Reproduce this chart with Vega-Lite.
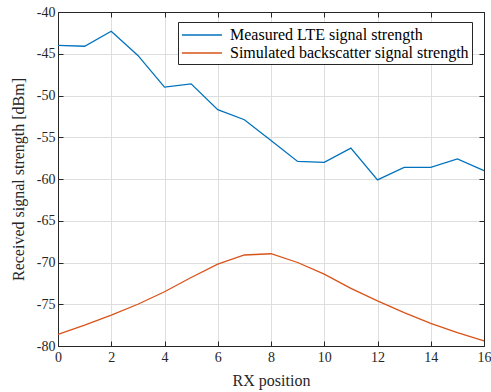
{
  "$schema": "https://vega.github.io/schema/vega-lite/v6.json",
  "width": 426,
  "height": 334,
  "autosize": {"type": "none"},
  "padding": {"left": 58, "top": 12, "right": 7, "bottom": 46},
  "background": "white",
  "config": {
    "view": {"stroke": "#262626", "strokeWidth": 1},
    "font": "'Liberation Serif', serif",
    "axis": {
      "labelFont": "'Liberation Serif', serif",
      "titleFont": "'Liberation Serif', serif",
      "labelFontSize": 14,
      "titleFontSize": 16,
      "titleFontWeight": "normal",
      "labelColor": "#262626",
      "titleColor": "#262626",
      "domainColor": "#262626",
      "tickColor": "#262626",
      "gridColor": "#dedede",
      "gridWidth": 1,
      "labelFlush": false
    },
    "legend": {
      "labelFont": "'Liberation Serif', serif",
      "labelFontSize": 16,
      "labelLimit": 0
    }
  },
  "data": {
    "values": [
      {"x": 0, "series": "Measured LTE signal strength", "v": -44.0},
      {"x": 1, "series": "Measured LTE signal strength", "v": -44.1},
      {"x": 2, "series": "Measured LTE signal strength", "v": -42.3},
      {"x": 3, "series": "Measured LTE signal strength", "v": -45.2},
      {"x": 4, "series": "Measured LTE signal strength", "v": -49.0},
      {"x": 5, "series": "Measured LTE signal strength", "v": -48.6},
      {"x": 6, "series": "Measured LTE signal strength", "v": -51.7},
      {"x": 7, "series": "Measured LTE signal strength", "v": -52.9},
      {"x": 8, "series": "Measured LTE signal strength", "v": -55.4},
      {"x": 9, "series": "Measured LTE signal strength", "v": -57.9},
      {"x": 10, "series": "Measured LTE signal strength", "v": -58.0},
      {"x": 11, "series": "Measured LTE signal strength", "v": -56.3},
      {"x": 12, "series": "Measured LTE signal strength", "v": -60.1},
      {"x": 13, "series": "Measured LTE signal strength", "v": -58.6},
      {"x": 14, "series": "Measured LTE signal strength", "v": -58.6},
      {"x": 15, "series": "Measured LTE signal strength", "v": -57.6},
      {"x": 16, "series": "Measured LTE signal strength", "v": -59.0},
      {"x": 0, "series": "Simulated backscatter signal strength", "v": -78.6},
      {"x": 1, "series": "Simulated backscatter signal strength", "v": -77.5},
      {"x": 2, "series": "Simulated backscatter signal strength", "v": -76.3},
      {"x": 3, "series": "Simulated backscatter signal strength", "v": -75.0},
      {"x": 4, "series": "Simulated backscatter signal strength", "v": -73.5},
      {"x": 5, "series": "Simulated backscatter signal strength", "v": -71.8},
      {"x": 6, "series": "Simulated backscatter signal strength", "v": -70.2},
      {"x": 7, "series": "Simulated backscatter signal strength", "v": -69.1},
      {"x": 8, "series": "Simulated backscatter signal strength", "v": -68.95},
      {"x": 9, "series": "Simulated backscatter signal strength", "v": -70.0},
      {"x": 10, "series": "Simulated backscatter signal strength", "v": -71.4},
      {"x": 11, "series": "Simulated backscatter signal strength", "v": -73.1},
      {"x": 12, "series": "Simulated backscatter signal strength", "v": -74.6},
      {"x": 13, "series": "Simulated backscatter signal strength", "v": -76.0},
      {"x": 14, "series": "Simulated backscatter signal strength", "v": -77.3},
      {"x": 15, "series": "Simulated backscatter signal strength", "v": -78.4},
      {"x": 16, "series": "Simulated backscatter signal strength", "v": -79.4}
    ]
  },
  "layer": [
    {
      "mark": {"type": "line", "strokeWidth": 1.3},
      "encoding": {
        "x": {
          "field": "x", "type": "quantitative",
          "scale": {"domain": [0, 16], "nice": false, "zero": false},
          "axis": {"title": "RX position", "values": [0,2,4,6,8,10,12,14,16], "tickSize": -5, "labelPadding": 9, "titlePadding": 8, "grid": true}
        },
        "y": {
          "field": "v", "type": "quantitative",
          "scale": {"domain": [-80, -40], "nice": false, "zero": false},
          "axis": {"title": "Received signal strength [dBm]", "values": [-80,-75,-70,-65,-60,-55,-50,-45,-40], "labelExpr": "replace(datum.label, '\u2212', '-')", "tickSize": -5, "labelPadding": 8, "titlePadding": 10, "grid": true}
        },
        "color": {
          "field": "series", "type": "nominal",
          "scale": {"domain": ["Measured LTE signal strength", "Simulated backscatter signal strength"], "range": ["#0072BD", "#D95319"]},
          "legend": {
            "title": null, "orient": "none", "legendX": 120, "legendY": 10,
            "symbolType": "M-1,0L3.44,0", "symbolSize": 324, "symbolStrokeWidth": 1.5, "symbolFillColor": "transparent",
            "labelFont": "'Liberation Serif', serif", "labelFontSize": 16, "labelColor": "#000000", "labelLimit": 0,
            "strokeColor": "#262626", "fillColor": "white", "padding": 3, "rowPadding": 0,
            "labelOffset": 29, "cornerRadius": 0
          }
        }
      }
    },
    {
      "mark": {"type": "line", "opacity": 0},
      "encoding": {
        "x": {"field": "x", "type": "quantitative", "scale": {"domain": [0, 16], "nice": false, "zero": false},
          "axis": {"orient": "top", "title": null, "labels": false, "grid": false, "values": [0,2,4,6,8,10,12,14,16], "tickSize": -5}},
        "y": {"field": "v", "type": "quantitative", "scale": {"domain": [-80, -40], "nice": false, "zero": false},
          "axis": {"orient": "right", "title": null, "labels": false, "grid": false, "values": [-80,-75,-70,-65,-60,-55,-50,-45,-40], "tickSize": -5}},
        "detail": {"field": "series"}
      }
    }
  ],
  "resolve": {"axis": {"x": "independent", "y": "independent"}}
}
